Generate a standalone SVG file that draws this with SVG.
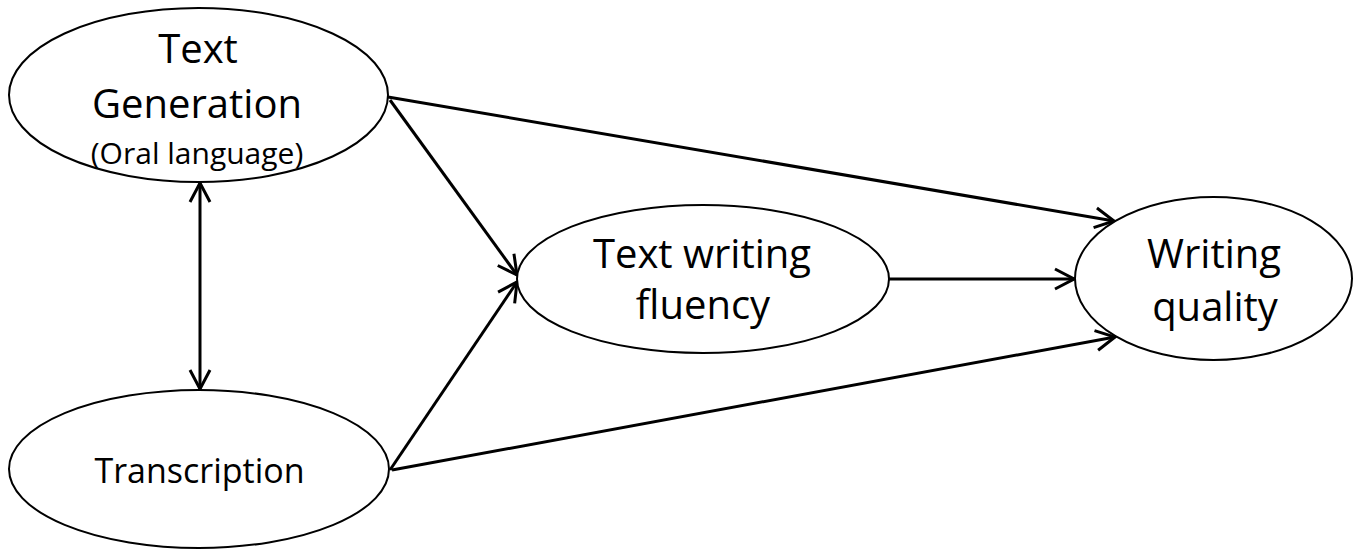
<svg xmlns="http://www.w3.org/2000/svg" width="1360" height="551" viewBox="0 0 1360 551">
<style>
.node ellipse{fill:#fff;stroke:#000;stroke-width:2}
.t{font-family:"Open Sans",sans-serif;fill:#000;text-anchor:middle}
.c line{stroke:#000;stroke-width:3;fill:none}
</style>
<defs>
<marker id="ah" markerUnits="userSpaceOnUse" viewBox="-22 -12 24 24" markerWidth="24" markerHeight="24" refX="0" refY="0" orient="auto-start-reverse">
<path d="M-19,-10 L0,0 L-19,10" fill="none" stroke="#000" stroke-width="3" stroke-linejoin="miter"/>
</marker>
</defs>
<rect width="1360" height="551" fill="#fff"/>
<g id="connectors" class="c">
<line x1="200" y1="183" x2="200" y2="389" marker-start="url(#ah)" marker-end="url(#ah)"/>
<line x1="388" y1="97" x2="1114" y2="221" marker-end="url(#ah)"/>
<line x1="390" y1="100" x2="517" y2="275" marker-end="url(#ah)"/>
<line x1="390" y1="470" x2="517" y2="282" marker-end="url(#ah)"/>
<line x1="392" y1="470" x2="1115" y2="337" marker-end="url(#ah)"/>
<line x1="889" y1="279" x2="1074" y2="279" marker-end="url(#ah)"/>
</g>
<g id="textGeneration" class="node">
<ellipse cx="198.5" cy="95" rx="189.5" ry="87"/>
<text class="t" x="198" y="63" font-size="40">Text</text>
<text class="t" x="197" y="118" font-size="40">Generation</text>
<text class="t" x="197" y="164" font-size="30">(Oral language)</text>
</g>
<g id="transcription" class="node">
<ellipse cx="199" cy="469" rx="190" ry="79"/>
<text class="t" x="199.5" y="483" font-size="34">Transcription</text>
</g>
<g id="textWritingFluency" class="node">
<ellipse cx="703" cy="279" rx="186" ry="74"/>
<text class="t" x="702" y="268" font-size="40">Text writing</text>
<text class="t" x="703" y="319" font-size="40">fluency</text>
</g>
<g id="writingQuality" class="node">
<ellipse cx="1213.5" cy="278.5" rx="138.5" ry="81.5"/>
<text class="t" x="1214" y="268" font-size="40">Writing</text>
<text class="t" x="1215" y="321" font-size="40">quality</text>
</g>
</svg>
